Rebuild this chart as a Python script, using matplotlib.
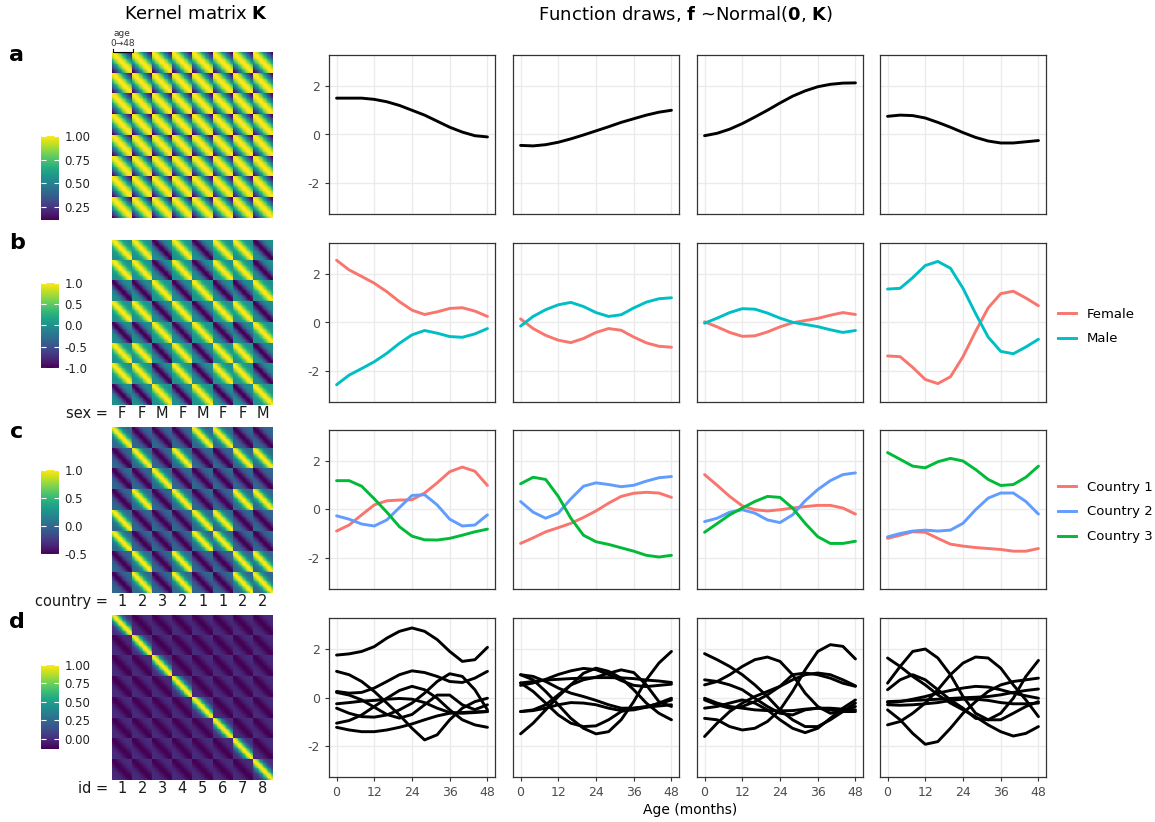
import numpy as np
import matplotlib
matplotlib.use("Agg")
import matplotlib.pyplot as plt
from matplotlib.lines import Line2D

plt.rcParams['font.family'] = ['DejaVu Sans']
plt.rcParams['axes.unicode_minus'] = False

W, H = 1155, 822

# ---- data ----
months = [0, 4, 8, 12, 16, 20, 24, 28, 32, 36, 40, 44, 48]

sex = ["F", "F", "M", "F", "M", "F", "F", "M"]
country = [1, 2, 3, 2, 1, 1, 2, 2]
ids = [1, 2, 3, 4, 5, 6, 7, 8]

# row a: one draw per panel
a_draws = [
    [1.5, 1.5, 1.5, 1.45, 1.35, 1.2, 1.0, 0.8, 0.55, 0.3, 0.1, -0.05, -0.1],
    [-0.45, -0.47, -0.42, -0.32, -0.18, -0.02, 0.15, 0.32, 0.5, 0.65, 0.8, 0.92, 1.0],
    [-0.05, 0.05, 0.22, 0.45, 0.72, 1.0, 1.3, 1.58, 1.8, 1.97, 2.07, 2.12, 2.13],
    [0.75, 0.8, 0.78, 0.68, 0.5, 0.3, 0.08, -0.12, -0.27, -0.35, -0.35, -0.3, -0.25],
]

# row b: female / male per panel
b_female = [
    [2.57, 2.17, 1.9, 1.62, 1.27, 0.86, 0.51, 0.33, 0.44, 0.58, 0.61, 0.47, 0.25],
    [0.15, -0.25, -0.53, -0.73, -0.83, -0.66, -0.41, -0.25, -0.32, -0.6, -0.84, -0.98, -1.02],
    [0.03, -0.18, -0.41, -0.57, -0.55, -0.39, -0.18, -0.01, 0.08, 0.17, 0.3, 0.41, 0.33],
    [-1.38, -1.41, -1.85, -2.35, -2.52, -2.24, -1.41, -0.37, 0.6, 1.19, 1.29, 1.01, 0.69],
]
b_male = [
    [-2.57, -2.17, -1.9, -1.62, -1.27, -0.86, -0.51, -0.33, -0.44, -0.58, -0.61, -0.47, -0.25],
    [-0.15, 0.25, 0.53, 0.73, 0.83, 0.66, 0.41, 0.25, 0.32, 0.6, 0.84, 0.98, 1.02],
    [-0.03, 0.18, 0.41, 0.57, 0.55, 0.39, 0.18, 0.01, -0.08, -0.17, -0.3, -0.41, -0.33],
    [1.38, 1.41, 1.85, 2.35, 2.52, 2.24, 1.41, 0.37, -0.6, -1.19, -1.29, -1.01, -0.69],
]

# row c: country 1 / 2 / 3 per panel
c_country1 = [
    [-0.89, -0.64, -0.22, 0.19, 0.36, 0.39, 0.4, 0.68, 1.1, 1.56, 1.75, 1.58, 0.99],
    [-1.4, -1.17, -0.92, -0.75, -0.57, -0.33, -0.06, 0.26, 0.54, 0.67, 0.71, 0.68, 0.5],
    [1.44, 1.0, 0.54, 0.15, -0.01, -0.06, -0.01, 0.06, 0.12, 0.17, 0.17, 0.06, -0.19],
    [-1.19, -1.06, -0.92, -0.94, -1.19, -1.43, -1.51, -1.57, -1.61, -1.65, -1.72, -1.72, -1.61],
]
c_country2 = [
    [-0.26, -0.4, -0.6, -0.68, -0.43, 0.08, 0.58, 0.61, 0.19, -0.4, -0.68, -0.64, -0.22],
    [0.33, -0.11, -0.36, -0.15, 0.44, 0.96, 1.1, 1.03, 0.94, 1.0, 1.17, 1.31, 1.36],
    [-0.5, -0.36, -0.11, -0.01, -0.15, -0.43, -0.54, -0.22, 0.36, 0.82, 1.19, 1.44, 1.51],
    [-1.13, -0.99, -0.89, -0.85, -0.89, -0.85, -0.57, -0.01, 0.47, 0.68, 0.68, 0.33, -0.19],
]
c_country3 = [
    [1.19, 1.19, 0.96, 0.44, -0.11, -0.71, -1.1, -1.25, -1.26, -1.19, -1.06, -0.92, -0.81],
    [1.06, 1.33, 1.24, 0.54, -0.36, -1.06, -1.33, -1.44, -1.58, -1.72, -1.89, -1.96, -1.89],
    [-0.94, -0.58, -0.22, 0.06, 0.33, 0.54, 0.5, 0.06, -0.57, -1.12, -1.4, -1.4, -1.31],
    [2.35, 2.07, 1.79, 1.72, 1.97, 2.11, 2.0, 1.65, 1.24, 0.99, 1.03, 1.33, 1.79],
]

# row d: eight individuals per panel
d_panel1 = [
    [1.75, 1.8, 1.9, 2.1, 2.45, 2.73, 2.87, 2.73, 2.39, 1.9, 1.49, 1.56, 2.07],
    [1.08, 0.94, 0.66, 0.25, -0.23, -0.72, -1.27, -1.75, -1.54, -0.92, -0.44, -0.17, -0.03],
    [0.25, 0.18, 0.21, 0.39, 0.66, 0.94, 1.1, 1.03, 0.87, 0.66, 0.62, 0.8, 1.08],
    [-1.06, -0.95, -0.72, -0.37, -0.03, 0.29, 0.46, 0.32, -0.03, -0.51, -0.92, -1.13, -1.23],
    [-0.44, -0.65, -0.79, -0.81, -0.72, -0.51, -0.23, 0.18, 0.66, 0.98, 0.87, 0.32, -0.51],
    [-0.26, -0.21, -0.15, -0.12, -0.07, -0.04, -0.07, -0.21, -0.44, -0.62, -0.65, -0.62, -0.58],
    [-1.23, -1.34, -1.41, -1.41, -1.34, -1.23, -1.09, -0.92, -0.76, -0.65, -0.62, -0.59, -0.58],
    [0.21, 0.1, -0.1, -0.4, -0.7, -0.85, -0.7, -0.3, 0.1, 0.1, -0.3, -0.5, -0.3],
]
d_panel2 = [
    [0.94, 0.73, 0.25, -0.3, -0.86, -1.27, -1.5, -1.41, -0.92, -0.17, 0.73, 1.42, 1.9],
    [-1.5, -1.06, -0.51, 0.04, 0.52, 1.0, 1.21, 1.08, 0.8, 0.32, -0.23, -0.65, -0.92],
    [-0.58, -0.51, -0.3, 0.11, 0.52, 0.73, 0.84, 1.0, 1.14, 1.03, 0.52, -0.17, -0.37],
    [0.6, 0.66, 0.72, 0.75, 0.78, 0.8, 0.82, 0.82, 0.81, 0.78, 0.72, 0.68, 0.62],
    [0.94, 0.87, 0.66, 0.39, 0.18, 0.04, -0.12, -0.3, -0.44, -0.44, -0.37, -0.26, -0.1],
    [-0.58, -0.54, -0.44, -0.3, -0.21, -0.23, -0.3, -0.44, -0.54, -0.51, -0.4, -0.23, -0.03],
    [0.6, 0.25, -0.23, -0.72, -1.06, -1.2, -1.17, -0.92, -0.58, -0.44, -0.4, -0.35, -0.3],
    [0.5, 0.6, 0.75, 0.95, 1.1, 1.2, 1.15, 0.95, 0.7, 0.5, 0.45, 0.5, 0.55],
]
d_panel3 = [
    [1.81, 1.56, 1.28, 0.94, 0.52, 0.04, -0.51, -0.92, -1.2, -1.2, -0.92, -0.58, -0.23],
    [-1.61, -1.06, -0.58, -0.23, 0.04, 0.25, 0.46, 0.73, 0.94, 1.01, 0.94, 0.73, 0.48],
    [-0.86, -0.92, -1.2, -1.34, -1.27, -0.99, -0.51, 0.25, 1.14, 1.9, 2.18, 2.11, 1.59],
    [0.52, 0.66, 0.94, 1.28, 1.56, 1.67, 1.49, 0.94, 0.18, -0.37, -0.65, -0.58, -0.37],
    [0.73, 0.66, 0.52, 0.32, -0.03, -0.37, -0.65, -0.72, -0.51, -0.44, -0.51, -0.58, -0.58],
    [-0.03, -0.23, -0.37, -0.44, -0.51, -0.54, -0.55, -0.54, -0.48, -0.44, -0.44, -0.48, -0.51],
    [-0.1, -0.3, -0.44, -0.37, -0.17, 0.11, 0.46, 0.94, 1.01, 0.94, 0.8, 0.59, 0.46],
    [-0.44, -0.37, -0.23, -0.1, -0.23, -0.51, -0.92, -1.27, -1.45, -1.27, -0.86, -0.44, -0.1],
]
d_panel4 = [
    [0.59, 1.28, 1.9, 2.0, 1.63, 0.94, 0.04, -0.65, -0.92, -0.92, -0.65, -0.37, -0.17],
    [-0.51, -0.92, -1.48, -1.93, -1.82, -1.27, -0.65, -0.17, 0.25, 0.52, 0.66, 0.73, 0.8],
    [1.63, 1.28, 0.87, 0.52, 0.11, -0.23, -0.51, -0.79, -1.13, -1.41, -1.59, -1.48, -1.2],
    [-1.13, -0.99, -0.65, -0.23, 0.32, 0.94, 1.42, 1.67, 1.63, 1.21, 0.52, -0.1, -0.79],
    [0.32, 0.73, 0.94, 0.73, 0.32, -0.1, -0.44, -0.86, -0.92, -0.65, -0.03, 0.87, 1.53],
    [-0.17, -0.15, -0.12, -0.1, -0.07, -0.04, -0.01, 0.01, 0.04, 0.11, 0.21, 0.29, 0.35],
    [-0.3, -0.32, -0.3, -0.26, -0.21, -0.12, -0.07, -0.07, -0.12, -0.21, -0.26, -0.26, -0.23],
    [-0.21, -0.17, -0.07, 0.04, 0.18, 0.29, 0.39, 0.46, 0.43, 0.32, 0.18, 0.07, -0.03],
]

sex_colors = ["#F8766D", "#00BFC4"]
country_colors = ["#F8766D", "#619CFF", "#00BA38"]

# kernel settings
ell_a = 23.0
ell_other = 12.0
n_age = 25


def box(l, t, r, b):
    return [l / W, 1 - b / H, (r - l) / W, (b - t) / H]


def k_age(ell):
    ages = np.linspace(0, 48, n_age)
    d = ages[:, None] - ages[None, :]
    return np.exp(-d ** 2 / (2 * ell ** 2))


def zerosum(labels):
    lab = np.asarray(labels)
    n = len(set(labels))
    same = lab[:, None] == lab[None, :]
    return np.where(same, 1.0, -1.0 / (n - 1))


kernels = [
    np.kron(np.ones((8, 8)), k_age(ell_a)),
    np.kron(zerosum(sex), k_age(ell_other)),
    np.kron(zerosum(country), k_age(ell_other)),
    np.kron(zerosum(ids), k_age(ell_other)),
]
cb_ticks = [[0.25, 0.5, 0.75, 1.0], [-1, -0.5, 0, 0.5, 1], [-0.5, 0, 0.5, 1], [0, 0.25, 0.5, 0.75, 1]]
cb_labels = [["0.25", "0.50", "0.75", "1.00"], ["-1.0", "-0.5", "0.0", "0.5", "1.0"],
             ["-0.5", "0.0", "0.5", "1.0"], ["0.00", "0.25", "0.50", "0.75", "1.00"]]

fig = plt.figure(figsize=(W / 100, H / 100), dpi=100)

heat_rows = [(52, 218), (240, 405), (427, 593), (615, 780)]
cbar_rows = [(136, 220), (283, 368), (470, 554), (665, 749)]
hx0, hx1 = 112, 273

for i, K in enumerate(kernels):
    t, b = heat_rows[i]
    hax = fig.add_axes(box(hx0, t, hx1, b))
    im = hax.imshow(K, cmap="viridis", aspect="auto", interpolation="nearest",
                    vmin=K.min(), vmax=K.max())
    hax.set_axis_off()
    ct, cbm = cbar_rows[i]
    cax = fig.add_axes(box(41, ct, 59, cbm))
    cb = fig.colorbar(im, cax=cax)
    cb.outline.set_visible(False)
    cb.set_ticks(cb_ticks[i])
    cb.set_ticklabels(cb_labels[i])
    cax.tick_params(axis="y", left=True, right=True, direction="in", length=3.5,
                    width=0.8, color="white", labelsize=8.5, labelcolor="#222222", pad=4)

# group labels under the heatmaps
block_w = (hx1 - hx0) / 8
group_labels = [None, sex, country, ids]
group_names = [None, "sex =", "country =", "id ="]
for i in range(1, 4):
    y = heat_rows[i][1] + 8
    fig.text(108 / W, 1 - y / H, group_names[i], ha="right", va="center", fontsize=10.5, color="#1a1a1a")
    for j, lab in enumerate(group_labels[i]):
        fig.text((hx0 + block_w * (j + 0.5)) / W, 1 - y / H, str(lab), ha="center", va="center",
                 fontsize=10.5, color="#1a1a1a")

# age bracket on panel a
fig.text(122 / W, 1 - 33 / H, "age", ha="center", va="center", fontsize=6.5, color="#333333")
fig.text(123 / W, 1 - 43 / H, "0\u219248", ha="center", va="center", fontsize=6.5, color="#333333")
bx = [113 / W, 113 / W, 133 / W, 133 / W]
by = [1 - 49 / H, 1 - 52 / H, 1 - 52 / H, 1 - 49 / H]
fig.add_artist(Line2D(bx, by, transform=fig.transFigure, color="black", lw=0.8))

# panel letters
for letter, y in zip("abcd", [55, 243, 432, 622]):
    fig.text(17 / W, 1 - y / H, letter, ha="center", va="center", fontsize=16, fontweight="bold")

# function draw panels
col_left = [329, 513, 697, 880]
row_top = [55, 243, 430, 618]
pw, ph = 166, 159

row_series = [
    [[(a_draws[p], "black")] for p in range(4)],
    [[(b_female[p], sex_colors[0]), (b_male[p], sex_colors[1])] for p in range(4)],
    [[(c_country1[p], country_colors[0]), (c_country2[p], country_colors[1]),
      (c_country3[p], country_colors[2])] for p in range(4)],
    [[(s, "black") for s in d] for d in (d_panel1, d_panel2, d_panel3, d_panel4)],
]

for r in range(4):
    for c in range(4):
        l = col_left[c]
        t = row_top[r]
        ax = fig.add_axes(box(l, t, l + pw, t + ph))
        for vals, col in row_series[r][c]:
            ax.plot(months, vals, color=col, lw=2.1, solid_capstyle="round", solid_joinstyle="round")
        ax.set_xlim(-2.4, 50.4)
        ax.set_ylim(-3.28, 3.28)
        ax.set_xticks([0, 12, 24, 36, 48])
        ax.set_yticks([-2, 0, 2])
        ax.grid(True, color="#EBEBEB", lw=1.0)
        ax.set_axisbelow(True)
        for sp in ax.spines.values():
            sp.set_color("#333333")
            sp.set_linewidth(0.9)
        ax.tick_params(axis="both", colors="#333333", labelcolor="#4D4D4D", labelsize=9,
                       length=3, width=0.8)
        if c != 0:
            ax.tick_params(axis="y", left=False, labelleft=False)
        if r != 3:
            ax.tick_params(axis="x", bottom=False, labelbottom=False)

# legends
sex_handles = [Line2D([], [], color=sex_colors[0], lw=2.1), Line2D([], [], color=sex_colors[1], lw=2.1)]
fig.legend(sex_handles, ["Female", "Male"], loc="center left",
           bbox_to_anchor=(1058 / W, 1 - 326.5 / H), frameon=False, fontsize=9.5,
           handlelength=1.4, handletextpad=0.8, labelspacing=0.9, borderpad=0, borderaxespad=0)
country_handles = [Line2D([], [], color=cc, lw=2.1) for cc in country_colors]
fig.legend(country_handles, ["Country 1", "Country 2", "Country 3"], loc="center left",
           bbox_to_anchor=(1058 / W, 1 - 512 / H), frameon=False, fontsize=9.5,
           handlelength=1.4, handletextpad=0.8, labelspacing=0.9, borderpad=0, borderaxespad=0)

# titles
fig.text(196 / W, 1 - 14 / H, r"Kernel matrix $\mathbf{K}$", ha="center", va="center", fontsize=13)
fig.text(686 / W, 1 - 14 / H, r"Function draws, $\mathbf{f}$ ~Normal($\mathbf{0}$, $\mathbf{K}$)",
         ha="center", va="center", fontsize=13)
fig.text(690 / W, 1 - 810 / H, "Age (months)", ha="center", va="center", fontsize=10)

fig.savefig("out.png", dpi=100)
